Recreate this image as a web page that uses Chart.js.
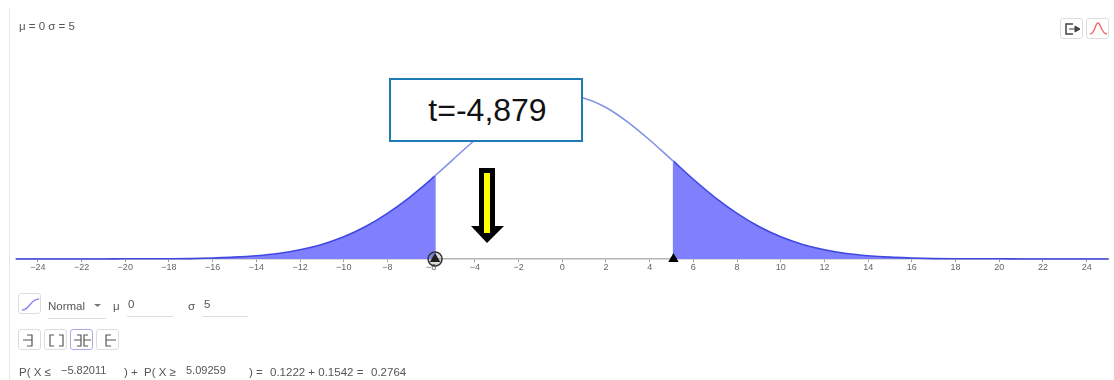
<!DOCTYPE html>
<html><head><meta charset="utf-8">
<script src="https://cdn.jsdelivr.net/npm/chart.js@4"></script>
<style>
html,body{margin:0;padding:0;background:#fff;overflow:hidden}
#wrap{position:relative;width:1114px;height:380px;font-family:"Liberation Sans",Arial,sans-serif;color:#555;filter:blur(.45px)}
canvas{position:absolute;left:0;top:0}
.t{position:absolute;font-size:11.5px;line-height:13px;white-space:nowrap}
.b{position:absolute;box-sizing:border-box;border:1px solid #ddd;border-radius:3px;background:#fff}
.u{position:absolute;height:1px;background:#ddd}
svg{position:absolute;overflow:visible}
#call{position:absolute;left:389px;top:78px;width:194px;height:64px;box-sizing:border-box;border:2px solid #1f7bb6;background:#fff;color:#111;font-size:32px;line-height:60px;text-align:center;padding-left:3px}
</style></head><body>
<div id="wrap">
<canvas id="c" width="1114" height="380"></canvas>
<div style="position:absolute;left:9px;top:8px;width:1px;height:372px;background:#e8e8e8"></div>
<div class="t" style="left:19px;top:20px">μ = 0 σ = 5</div>

<div class="b" style="left:1060px;top:18px;width:23px;height:21px"><svg width="23" height="21" style="left:0;top:0"><path d="M12 5H5V15H12" fill="none" stroke="#444" stroke-width="1.5"/><path d="M8 10H14M14 7L19 10L14 13Z" fill="#444" stroke="#444"/></svg></div>
<div class="b" style="left:1086px;top:18px;width:23px;height:21px"><svg width="23" height="21" style="left:0;top:0"><path d="M3 15C8 15 8 4 11 4S14 15 20 15" fill="none" stroke="#f0696b" stroke-width="1.4"/></svg></div>

<div id="call">t=-4,879</div>
<svg width="1114" height="380" style="left:0;top:0;pointer-events:none">
<path d="M479 168H495V226H504L487 243L471 226H479Z" fill="#000"/>
<path d="M484 173H490V233H484Z" fill="#ff0"/>
</svg>

<div class="b" style="left:18px;top:293px;width:23px;height:21px"><svg width="23" height="21" style="left:0;top:0"><path d="M3 16C11 16 11 5 20 5" fill="none" stroke="#8a8af0" stroke-width="1.5"/></svg></div>
<div class="t" style="left:48px;top:300px">Normal</div>
<svg width="8" height="4" style="left:94px;top:304px"><path d="M0 0H7L3.5 3Z" fill="#777"/></svg>
<div class="u" style="left:48px;top:318px;width:58px"></div>
<div class="t" style="left:113px;top:300px">μ</div>
<div class="t" style="left:128px;top:298px">0</div>
<div class="u" style="left:127px;top:316px;width:46px"></div>
<div class="t" style="left:188px;top:300px">σ</div>
<div class="t" style="left:204px;top:298px">5</div>
<div class="u" style="left:202px;top:316px;width:46px"></div>

<div class="b" style="left:18px;top:329px;width:23px;height:21px"><svg width="23" height="21" style="left:0;top:0"><path d="M8 5H13V16H8M4 10H13" fill="none" stroke="#555" stroke-width="1.2"/></svg></div>
<div class="b" style="left:44px;top:329px;width:23px;height:21px"><svg width="23" height="21" style="left:0;top:0"><path d="M9 5H5V16H9M14 5H18V16H14" fill="none" stroke="#555" stroke-width="1.2"/></svg></div>
<div class="b" style="left:70px;top:329px;width:23px;height:21px;border-color:#a9a9ee"><svg width="23" height="21" style="left:0;top:0"><path d="M6 5H10V16H6M17 5H13V16H17M3 10H10M13 10H20" fill="none" stroke="#555" stroke-width="1.2"/></svg></div>
<div class="b" style="left:96px;top:329px;width:23px;height:21px"><svg width="23" height="21" style="left:0;top:0"><path d="M14 5H9V16H14M9 10H19" fill="none" stroke="#555" stroke-width="1.2"/></svg></div>

<div class="t" style="left:19px;top:366px">P( X ≤</div>
<div class="t" style="left:61px;top:364px;font-size:11px">−5.82011</div>
<div class="t" style="left:124px;top:366px">) +</div>
<div class="t" style="left:144px;top:366px">P( X ≥</div>
<div class="t" style="left:186px;top:364px;font-size:11px">5.09259</div>
<div class="t" style="left:249px;top:366px">) =</div>
<div class="t" style="left:270px;top:366px">0.1222 + 0.1542 =</div>
<div class="t" style="left:371px;top:366px">0.2764</div>
</div>
<script>
const curveX = [-25,-24,-23,-22,-21,-20,-19,-18,-17,-16,-15,-14,-13,-12,-11,-10,-9,-8,-7,-6,-5.82,-5,-4,-3,-2,-1,0,1,2,3,4,5,5.09,6,7,8,9,10,11,12,13,14,15,16,17,18,19,20,21,22,23,24,25];
const curveY = [0,0,0,0,0,0.0001,0.0001,0.0001,0.0002,0.0005,0.0009,0.0016,0.0027,0.0045,0.0071,0.0108,0.0158,0.0222,0.0299,0.0388,0.0405,0.0484,0.0579,0.0666,0.0737,0.0782,0.0798,0.0782,0.0737,0.0666,0.0579,0.0484,0.0476,0.0388,0.0299,0.0222,0.0158,0.0108,0.0071,0.0045,0.0027,0.0016,0.0009,0.0005,0.0002,0.0001,0.0001,0.0001,0,0,0,0,0];
const leftCut = -5.82;
const rightCut = 5.09;
const leftCutHeight = 0.0405;
const rightCutHeight = 0.0476;
const tickValues = [-24,-22,-20,-18,-16,-14,-12,-10,-8,-6,-4,-2,0,2,4,6,8,10,12,14,16,18,20,22,24];

const pts = curveX.map((x,i)=>({x,y:curveY[i]}));
const leftTail = pts.filter(p=>p.x<=leftCut);
const rightTail = pts.filter(p=>p.x>=rightCut);
const fillCol='#8080ff';
const smooth={showLine:true,pointRadius:0,cubicInterpolationMode:'monotone',clip:false,borderWidth:1.6};

new Chart(document.getElementById('c'),{
  type:'scatter',
  data:{datasets:[
    {data:[{x:leftCut,y:0}],showLine:false,pointStyle:'circle',pointRadius:7,backgroundColor:'rgba(120,120,120,.25)',borderColor:'#333',borderWidth:1.5,clip:false},
    {data:[{x:leftCut,y:0},{x:rightCut,y:0}],showLine:false,pointStyle:'triangle',pointRadius:6,backgroundColor:'#000',borderColor:'#000',borderWidth:0,clip:false},
    {data:[{x:leftCut,y:0},{x:leftCut,y:leftCutHeight}],showLine:true,pointRadius:0,borderColor:'#7a85f5',borderWidth:1.2,clip:false},
    {data:[{x:rightCut,y:0},{x:rightCut,y:rightCutHeight}],showLine:true,pointRadius:0,borderColor:'#7a85f5',borderWidth:1.2,clip:false},
    {...smooth,data:pts.filter(p=>p.x>=leftCut&&p.x<=rightCut),fill:false,borderColor:'#8492e6'},
    {...smooth,data:rightTail,fill:'origin',backgroundColor:fillCol,borderColor:'#3f49e0'},
    {...smooth,data:leftTail,fill:'origin',backgroundColor:fillCol,borderColor:'#3f49e0'}
  ]},
  options:{
    responsive:false,animation:false,
    layout:{autoPadding:false,padding:{left:16,right:5.5,top:53.5,bottom:0}},
    plugins:{legend:{display:false},tooltip:{enabled:false}},
    scales:{
      x:{type:'linear',min:-25,max:25,
        afterFit(s){s.height=121;},
        afterBuildTicks(s){s.ticks=tickValues.map(value=>({value}));},
        grid:{drawOnChartArea:false,drawTicks:true,tickLength:3,tickColor:'#999'},
        border:{display:true,color:'#b5b5b5',width:1.5},
        ticks:{autoSkip:false,maxRotation:0,padding:0,color:'#666',
          font:{family:'"Liberation Sans",Arial,sans-serif',size:9},
          callback:v=>String(v).replace('-','−')}
      },
      y:{display:false,min:0,max:0.1}
    }
  }
});
</script>
</body></html>
